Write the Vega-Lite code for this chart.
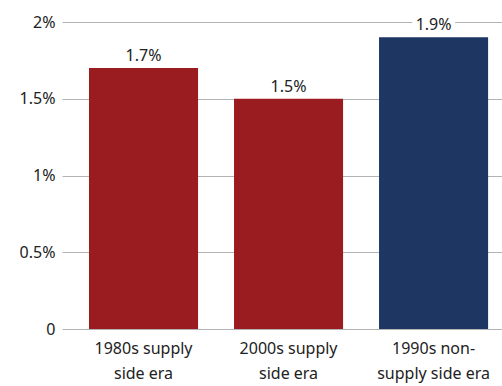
{
  "$schema": "https://vega.github.io/schema/vega-lite/v6.json",
  "width": 440,
  "height": 307,
  "padding": {"left": 62, "top": 22, "right": 0, "bottom": 57},
  "autosize": {"type": "none"},
  "background": "white",
  "config": {"view": {"stroke": null}, "font": "Noto Sans"},
  "data": {
    "values": [
      {"era": "1980s supply side era", "growth": 1.7, "label": "1.7%", "type": "supply"},
      {"era": "2000s supply side era", "growth": 1.5, "label": "1.5%", "type": "supply"},
      {"era": "1990s non-supply side era", "growth": 1.9, "label": "1.9%", "type": "non"}
    ]
  },
  "encoding": {
    "x": {
      "field": "era",
      "type": "nominal",
      "sort": null,
      "scale": {"paddingInner": 0.248, "paddingOuter": 0.141, "align": 0.66},
      "axis": {
        "title": null,
        "labelAngle": 0,
        "domain": false,
        "ticks": false,
        "labelPadding": 11,
        "labelFontSize": 16,
        "labelColor": "#222222",
        "labelLineHeight": 25,
        "labelExpr": "datum.value == '1980s supply side era' ? ['1980s supply', 'side era'] : datum.value == '2000s supply side era' ? ['2000s supply', 'side era'] : ['1990s non-', 'supply side era']"
      }
    },
    "y": {
      "field": "growth",
      "type": "quantitative",
      "scale": {"domain": [0, 2], "nice": false},
      "axis": {
        "title": null,
        "values": [0, 0.5, 1, 1.5, 2],
        "domain": false,
        "ticks": false,
        "grid": true,
        "gridColor": "#b3b3b3",
        "gridWidth": 1.2,
        "labelPadding": 7,
        "labelFontSize": 16,
        "labelColor": "#222222",
        "labelExpr": "datum.value == 0 ? '0' : datum.value + '%'"
      }
    }
  },
  "layer": [
    {
      "mark": {"type": "bar"},
      "encoding": {
        "color": {
          "field": "type",
          "type": "nominal",
          "scale": {"domain": ["supply", "non"], "range": ["#9a1c20", "#1d3762"]},
          "legend": null
        }
      }
    },
    {
      "mark": {"type": "text", "baseline": "bottom", "dy": -4, "fontSize": 16, "stroke": "white", "strokeWidth": 10, "fill": "white"},
      "encoding": {"text": {"field": "label"}}
    },
    {
      "mark": {"type": "text", "baseline": "bottom", "dy": -4, "fontSize": 16, "fill": "#222222"},
      "encoding": {"text": {"field": "label"}}
    }
  ]
}
